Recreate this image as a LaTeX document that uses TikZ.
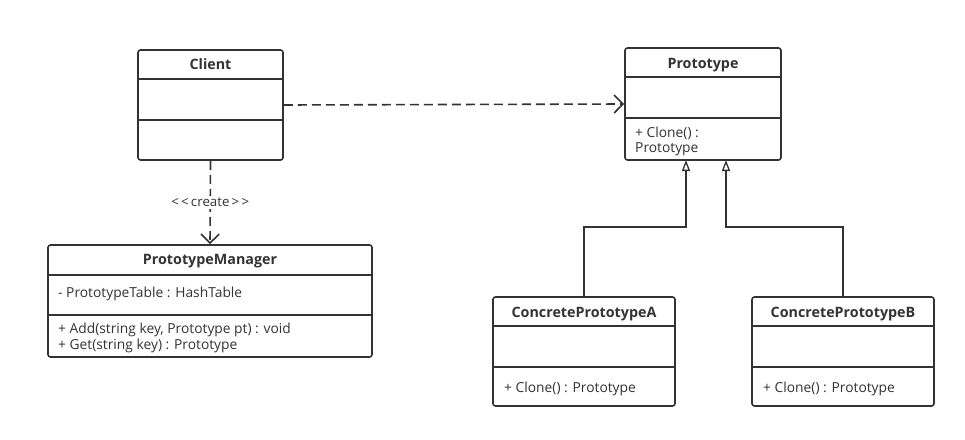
\documentclass[tikz,border=0pt]{standalone}
\usepackage{fontspec}
\setmainfont{Open Sans}
\usetikzlibrary{arrows.meta}
\definecolor{ink}{HTML}{333333}
\tikzset{
  box/.style={draw=ink, line width=1.6pt, rounded corners=2.5pt, inner sep=0pt},
  hdr/.style={font=\fontsize{14.3}{16}\selectfont\bfseries, text=ink, inner sep=0pt, anchor=base},
  txt/.style={font=\fontsize{13.8}{16}\selectfont, text=ink, inner sep=0pt, anchor=base west},
  div/.style={draw=ink, line width=1.6pt},
  dep/.style={draw=ink, line width=1.6pt, dash pattern=on 9pt off 5pt, -{Straight Barb[length=9pt, width=18pt, line width=1.6pt]}},
  inh/.style={draw=ink, line width=1.6pt, -{Triangle[open, length=11pt, width=8pt, line width=1.3pt]}},
  lbl/.style={font=\fontsize{13.3}{15}\selectfont, text=ink, fill=white, inner sep=2pt}
}
\begin{document}
\begin{tikzpicture}[x=1pt, y=-1pt]
\useasboundingbox[fill=white] (0,0) rectangle (965,439);

% Client
\node[box, minimum width=145pt, minimum height=110pt] (client) at (210.5,105) {};
\draw[div] (138,79) -- (283,79);
\draw[div] (138,120) -- (283,120);
\node[hdr] (clientname) at (210.5,69) {Client};

% Prototype
\node[box, minimum width=156pt, minimum height=112pt] (proto) at (703,104) {};
\draw[div] (625,77) -- (781,77);
\draw[div] (625,118) -- (781,118);
\node[hdr] (protoname) at (703,68.5) {Prototype};
\node[txt] (protoop1) at (635,137) {+ Clone() :};
\node[txt] (protoop2) at (635,152) {Prototype};

% PrototypeManager
\node[box, minimum width=324pt, minimum height=112pt] (pm) at (210,301) {};
\draw[div] (48,275) -- (372,275);
\draw[div] (48,315) -- (372,315);
\node[hdr] (pmname) at (210,264) {PrototypeManager};
\node[txt] (pmattr) at (58,297.5) {- PrototypeTable : HashTable};
\node[txt] (pmop1) at (58,333.5) {+ Add(string key, Prototype pt) : void};
\node[txt] (pmop2) at (58,349) {+ Get(string key) : Prototype};

% ConcretePrototypeA
\node[box, minimum width=182pt, minimum height=109pt] (ca) at (584,351.5) {};
\draw[div] (493,326) -- (675,326);
\draw[div] (493,367) -- (675,367);
\node[hdr] (caname) at (584,317.5) {ConcretePrototypeA};
\node[txt] (caops) at (504,392.5) {+ Clone() : Prototype};

% ConcretePrototypeB
\node[box, minimum width=182pt, minimum height=109pt] (cb) at (843,351.5) {};
\draw[div] (752,326) -- (934,326);
\draw[div] (752,367) -- (934,367);
\node[hdr] (cbname) at (843,317.5) {ConcretePrototypeB};
\node[txt] (cbops) at (763,392.5) {+ Clone() : Prototype};

% connector end points on Prototype
\coordinate (pa) at (686,160);
\coordinate (pb) at (726,160);

% connectors
\draw[dep] (client.east) -- (proto.west);
\draw[dep] (client.south) -- node[lbl, pos=0.5] {<\,<\,create\,>\,>} (pm.north);
\draw[inh] (ca.north) -- ++(0,-69) -| (pa);
\draw[inh] (cb.north) -- ++(0,-69) -| (pb);
\end{tikzpicture}
\end{document}
